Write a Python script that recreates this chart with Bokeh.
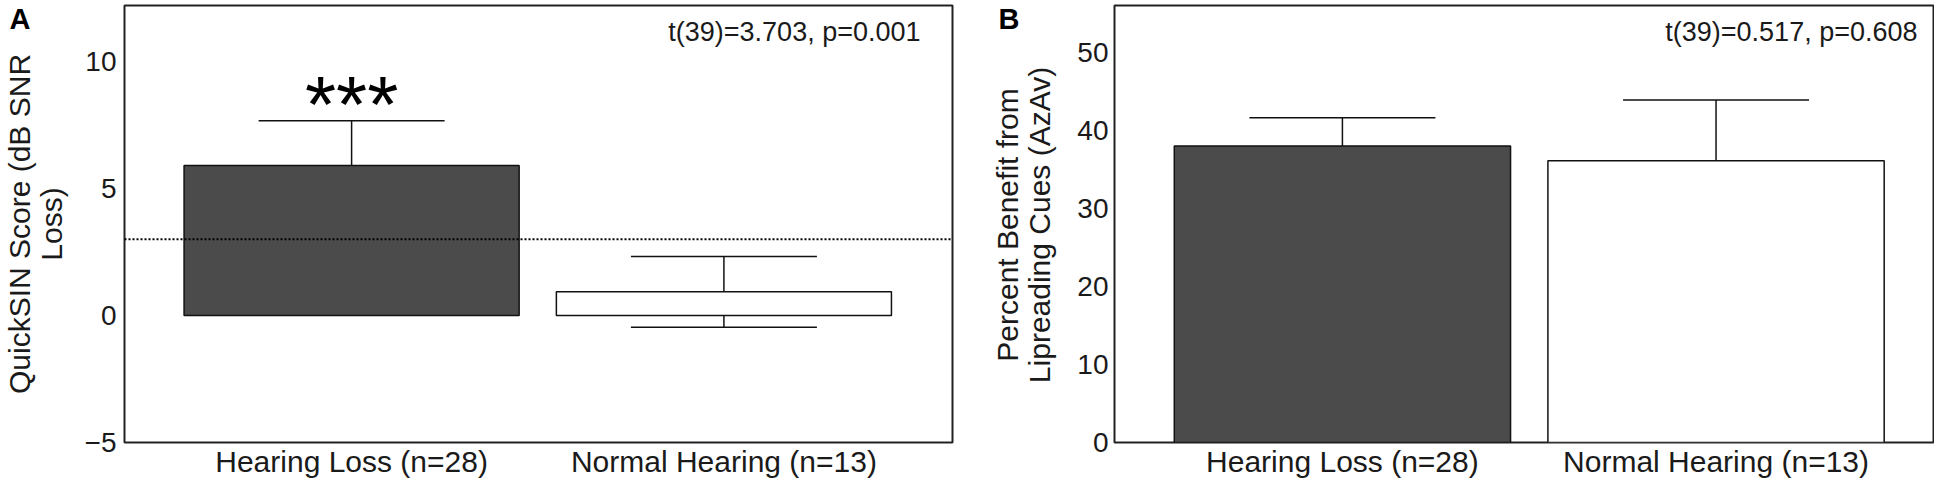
import math
from bokeh.plotting import figure
from bokeh.models import Range1d, FixedTicker, Whisker, TeeHead, Span, Label, ColumnDataSource
from bokeh.layouts import row
from bokeh.embed import file_html
from bokeh.resources import INLINE

# ---- data ----
categories = ["Hearing Loss (n=28)", "Normal Hearing (n=13)"]
bar_colors = ["#4b4b4b", "#ffffff"]

quicksin_mean = [5.9, 0.93]
quicksin_err = [1.76, 1.39]
quicksin_cutoff = 3.0
quicksin_ticks = [-5, 0, 5, 10]
quicksin_label = "QuickSIN Score (dB SNR\nLoss)"
quicksin_stat = "t(39)=3.703, p=0.001"
quicksin_sig = "***"

benefit_mean = [38.0, 36.1]
benefit_err = [3.6, 7.8]
benefit_ticks = [0, 10, 20, 30, 40, 50]
benefit_label = "Percent Benefit from\nLipreading Cues (AzAv)"
benefit_stat = "t(39)=0.517, p=0.608"

FONT = "Liberation Sans"
INK = "#1a1a1a"
HEIGHT = 480


def make_panel(width, left_border, right_border, xrange, yrange, means, errs,
               yticks, stat, stat_dx, tick_standoff):
    xs = [i + 1 for i in range(len(categories))]
    p = figure(width=width, height=HEIGHT, output_backend="svg", toolbar_location=None,
               x_range=Range1d(*xrange), y_range=Range1d(*yrange),
               min_border_left=left_border, min_border_right=right_border,
               min_border_top=5, min_border_bottom=0)
    p.grid.visible = False
    p.background_fill_color = "white"
    p.outline_line_color = "#222222"
    p.outline_line_width = 2
    p.outline_line_alpha = 1

    src = ColumnDataSource(dict(
        x=xs, top=means, color=bar_colors,
        upper=[m + e for m, e in zip(means, errs)],
        lower=[m - e for m, e in zip(means, errs)],
    ))
    p.vbar(x="x", top="top", bottom=0, width=0.9, fill_color="color",
           line_color="#111111", line_width=1.5, source=src)
    p.add_layout(Whisker(base="x", upper="upper", lower="lower", source=src,
                         line_color="#111111", line_width=1.5,
                         upper_head=TeeHead(size=186, line_color="#111111", line_width=1.5),
                         lower_head=TeeHead(size=186, line_color="#111111", line_width=1.5)))

    p.xaxis.ticker = FixedTicker(ticks=xs)
    p.xaxis.major_label_overrides = {x: c for x, c in zip(xs, categories)}
    p.yaxis.ticker = FixedTicker(ticks=yticks)
    for ax in (p.xaxis[0], p.yaxis[0]):
        ax.axis_line_color = None
        ax.major_tick_line_color = None
        ax.minor_tick_line_color = None
        ax.major_tick_out = 0
        ax.major_tick_in = 0
        ax.minor_tick_out = 0
        ax.minor_tick_in = 0
        ax.major_label_text_font = FONT
        ax.major_label_text_color = INK
    p.xaxis.major_label_text_font_size = "30px"
    p.xaxis.major_label_standoff = 2
    p.yaxis.major_label_text_font_size = "28px"
    p.yaxis.major_label_standoff = tick_standoff

    p.add_layout(Label(x=xrange[1], y=yrange[1], x_offset=stat_dx, y_offset=-26, text=stat,
                       text_align="right", text_baseline="middle",
                       text_font=FONT, text_font_size="27px", text_color=INK))
    return p


def letter(text, x, y, dx):
    return Label(x=x, y=y, x_offset=dx, y_offset=-13, text=text,
                 text_align="left", text_baseline="middle", text_font=FONT,
                 text_font_style="bold", text_font_size="29px", text_color="#000000")


# ---- panel A ----
xa = (0.39, 2.614)
ya = (-5, 12.2)
pa = make_panel(1074, 120, 122, xa, ya, quicksin_mean, quicksin_err,
                quicksin_ticks, quicksin_stat, -32, 8)
pa.yaxis.axis_label = quicksin_label
pa.yaxis.axis_label_text_font = FONT
pa.yaxis.axis_label_text_font_style = "normal"
pa.yaxis.axis_label_text_font_size = "30px"
pa.yaxis.axis_label_text_color = INK
pa.yaxis.axis_label_standoff = 14
pa.yaxis.axis_label_text_line_height = 0.95
pa.add_layout(Span(location=quicksin_cutoff, dimension="width", line_color="#000000",
                   line_width=2, line_dash="2 2"))
pa.add_layout(Label(x=1, y=quicksin_mean[0] + quicksin_err[0], y_offset=16, text=quicksin_sig,
                    text_align="center", text_baseline="middle",
                    text_font=FONT, text_font_size="80px", text_color="#000000"))

# texts in the gap between the two frames live in panel A's right side panel
# (side-panel annotations are not clipped to the frame)
pa.add_layout(letter("A", xa[0], ya[1], -115), "right")
pa.add_layout(letter("B", xa[1], ya[1], 46), "right")
pa.add_layout(Label(x=xa[1], y=(ya[0] + ya[1]) / 2, x_offset=71, y_offset=-1,
                    text=benefit_label, angle=math.pi / 2,
                    text_align="center", text_baseline="middle", text_font=FONT,
                    text_font_size="30px", text_line_height=0.95, text_color=INK),
              "right")

# ---- panel B ----
xb = (0.39, 2.582)
yb = (0, 56)
pb = make_panel(860, 38, 1, xb, yb, benefit_mean, benefit_err,
                benefit_ticks, benefit_stat, -16, 6)

layout = row(pa, pb, spacing=0)
open("out.html", "w").write(file_html(layout, INLINE))
